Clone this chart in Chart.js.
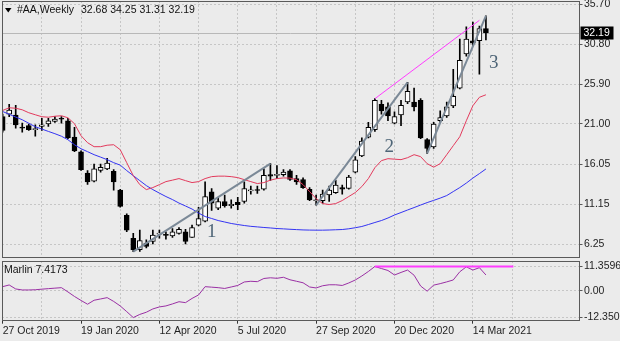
<!DOCTYPE html>
<html>
<head>
<meta charset="utf-8">
<title>#AA Weekly</title>
<script src="https://cdn.jsdelivr.net/npm/chart.js@4.4.1/dist/chart.umd.min.js"></script>
<style>
  html, body { margin: 0; padding: 0; background: #ebebeb; }
  #wrap { position: relative; width: 620px; height: 341px; overflow: hidden; }
  canvas { position: absolute; left: 0; }
  #price { top: 0; }
  #osc { top: 259px; }
</style>
</head>
<body>
<div id="wrap">
  <canvas id="price" width="620" height="259"></canvas>
  <canvas id="osc" width="620" height="82"></canvas>
</div>
<script>
// weekly bars, 27 Oct 2019 .. 28 Mar 2021
const dateLabels = ['27 Oct 2019', '19 Jan 2020', '12 Apr 2020', '5 Jul 2020', '27 Sep 2020', '20 Dec 2020', '14 Mar 2021'];
const priceTicks = [6.25, 11.15, 16.05, 21.00, 25.90, 30.80, 35.70];
const marlinTicks = [-12.3502, 0, 11.3596];

const opens = [21.9, 22.2, 22.1, 20.6, 20.8, 20.3, 20.7, 21.0, 21.3, 21.7,
  21.4, 19.4, 17.6, 15.0, 14.0, 15.3, 15.5, 15.2, 12.9, 9.8,
  7.0, 5.6, 6.4, 6.6, 7.5, 7.4, 7.3, 7.6, 7.8, 7.1,
  8.6, 9.1, 12.7, 10.7, 11.5, 11.0, 11.4, 11.5, 12.8, 12.9,
  13.0, 14.8, 14.7, 14.8, 15.25, 14.3, 14.2, 13.0, 11.6, 11.6,
  12.3, 12.6, 13.2, 13.1, 15.1, 17.1, 19.4, 20.3, 23.4, 23.1,
  21.1, 22.1, 23.7, 23.7, 23.9, 19.1, 18.2, 21.4, 22.0, 23.2,
  25.4, 29.6, 31.2, 31.2, 32.68];
const highs = [22.2, 23.4, 23.3, 21.1, 21.0, 20.9, 21.7, 21.7, 21.9, 21.9,
  21.7, 20.6, 17.7, 15.3, 16.1, 16.1, 16.8, 15.4, 13.0, 10.0,
  7.6, 8.0, 6.8, 8.0, 8.0, 7.8, 8.2, 8.3, 8.1, 8.6,
  10.8, 13.9, 13.1, 12.0, 12.3, 11.7, 12.0, 13.9, 13.4, 13.4,
  15.5, 16.15, 15.9, 15.4, 15.4, 14.7, 14.4, 13.2, 12.3, 12.9,
  13.4, 14.1, 13.5, 14.7, 17.0, 19.3, 21.2, 24.1, 23.9, 23.6,
  22.5, 23.9, 26.1, 25.4, 24.1, 19.2, 21.2, 22.6, 23.7, 27.7,
  31.4, 32.9, 33.5, 33.0, 34.25];
const lows = [20.0, 21.9, 20.5, 20.0, 20.2, 19.5, 20.2, 20.7, 21.2, 21.1,
  19.2, 17.6, 15.3, 13.6, 13.9, 15.1, 15.4, 12.9, 10.8, 7.8,
  5.35, 5.4, 5.8, 6.3, 7.0, 6.9, 7.1, 7.5, 6.3, 7.1,
  8.5, 9.0, 10.4, 10.5, 10.8, 10.7, 10.5, 11.3, 12.4, 12.5,
  12.9, 14.1, 14.3, 14.6, 14.1, 13.6, 13.1, 11.6, 11.05, 11.3,
  11.5, 12.5, 12.4, 13.0, 15.0, 17.0, 19.3, 20.1, 22.2, 21.4,
  21.0, 20.8, 23.5, 22.6, 19.2, 17.4, 18.0, 21.2, 21.8, 23.0,
  25.3, 29.3, 30.6, 27.1, 31.31];
const closes = [20.2, 22.7, 20.9, 20.5, 20.3, 20.4, 20.9, 21.4, 21.6, 21.6,
  19.3, 17.7, 15.4, 13.9, 15.5, 15.7, 16.2, 13.9, 10.9, 8.0,
  5.6, 6.7, 6.0, 7.4, 7.55, 7.35, 7.8, 8.1, 6.6, 8.3,
  9.4, 12.1, 11.3, 11.5, 11.0, 11.15, 11.1, 13.1, 12.9, 12.85,
  14.7, 14.6, 14.75, 15.1, 14.2, 13.9, 13.2, 11.7, 11.7, 12.4,
  12.9, 13.5, 13.0, 14.5, 16.6, 18.9, 20.6, 23.9, 22.6, 22.0,
  21.9, 23.3, 25.0, 23.1, 19.3, 18.0, 21.0, 21.8, 23.1, 24.4,
  28.8, 31.4, 30.9, 32.7, 32.19];

// moving averages on the price panel
const maFast = [22.66, 22.99, 22.93, 22.74, 22.38, 22.13, 21.89, 21.83, 21.95, 22.01,
  21.76, 21.03, 19.56, 18.71, 18.22, 18.22, 18.40, 18.46, 17.85, 16.26,
  14.67, 13.57, 12.96, 13.21, 13.57, 13.94, 14.12, 14.31, 14.06, 13.82,
  13.94, 14.31, 14.55, 14.61, 14.61, 14.55, 14.43, 14.18, 13.94, 13.70,
  13.82, 14.12, 14.31, 14.39, 14.37, 14.18, 13.57, 12.72, 11.86, 11.25,
  11.13, 11.25, 11.62, 12.11, 12.60, 13.33, 14.31, 15.65, 16.51, 16.75,
  16.69, 16.63, 16.87, 17.24, 17.00, 16.14, 15.71, 16.14, 17.24, 18.34,
  19.44, 21.40, 23.23, 24.27, 24.58];
const maSlow = [22.53, 22.19, 21.85, 21.52, 21.09, 20.66, 20.38, 20.09, 19.81, 19.50,
  19.07, 18.46, 17.97, 17.61, 17.24, 16.94, 16.63, 16.26, 15.96, 15.29,
  14.67, 14.06, 13.45, 12.96, 12.53, 12.11, 11.74, 11.31, 10.95, 10.58,
  10.09, 9.66, 9.42, 9.17, 8.99, 8.81, 8.68, 8.56, 8.46, 8.39,
  8.32, 8.26, 8.19, 8.15, 8.10, 8.06, 8.02, 8.00, 7.99, 7.99,
  8.01, 8.04, 8.07, 8.16, 8.29, 8.44, 8.68, 8.93, 9.17, 9.48,
  9.85, 10.15, 10.46, 10.76, 11.07, 11.37, 11.64, 11.92, 12.23, 12.72,
  13.21, 13.76, 14.37, 14.92, 15.49];

// Marlin oscillator
const marlin = [1.99, 2.78, 0.93, 0.46, 0.46, 0.56, 0.83, 1.07, 1.30, 1.53,
  -0.46, -2.55, -4.40, -6.16, -4.31, -3.71, -3.10, -4.86, -6.95, -9.59,
  -12.3502, -10.88, -9.87, -8.34, -7.41, -6.95, -6.02, -5.00, -5.42, -3.47,
  -1.85, 1.99, 1.76, 1.53, 1.16, 1.85, 2.55, 4.17, 4.49, 4.31,
  5.79, 6.11, 5.88, 6.35, 5.19, 4.49, 3.80, 1.85, 1.39, 2.41,
  2.87, 2.87, 2.55, 3.71, 5.09, 6.95, 9.03, 11.3596, 10.4, 9.5,
  7.4, 8.6, 9.7, 7.3, 2.3, -0.1, 2.7, 3.4, 4.2, 5.1,
  8.9, 11.2, 9.7, 10.8, 7.4173];

// wave lines [barIndex, value]
const wave1 = [[20, 5.35], [41, 16.15]];
const wave2 = [[48, 11.05], [62, 26.1]];
const wave3 = [[65, 17.4], [74, 34.25]];
const channelTop = [[57, 24.1], [73, 33.7]];
const marlinLevel = [[57, 11.3596], [78.2, 11.3596]];

const FONT = "'Liberation Sans', Arial, sans-serif";
const X_MIN = -0.1, X_MAX = 88.33;
const GRID = '#c6c6c6';
const FRAME = '#5a5a5a';

Chart.defaults.font.family = FONT;
Chart.defaults.font.size = 10.5;
Chart.defaults.color = '#1e1e1e';

const pts = arr => arr.map((v, i) => ({ x: i, y: v }));
const seg = arr => arr.map(p => ({ x: p[0], y: p[1] }));
const last = arr => arr[arr.length - 1];

function xScale(showLabels) {
  return {
    type: 'linear', min: X_MIN, max: X_MAX, offset: false,
    afterBuildTicks: s => { s.ticks = []; for (let v = 0; v <= 84; v += 6) s.ticks.push({ value: v }); },
    afterFit: s => { s.height = showLabels ? 20.3 : 0; s.paddingLeft = 0; s.paddingRight = 0; },
    grid: {
      color: GRID, offset: false, drawTicks: showLabels, tickLength: 3,
      tickColor: c => (c.tick && c.tick.value % 12 === 0) ? '#333' : 'rgba(0,0,0,0)'
    },
    border: { display: false, dash: [2, 2] },
    ticks: {
      display: showLabels, autoSkip: false, maxRotation: 0, align: 'start', padding: 1,
      callback: v => v % 12 === 0 ? dateLabels[v / 12] : ''
    }
  };
}

function yScale(min, max, values, fmt) {
  return {
    position: 'right', min: min, max: max,
    afterBuildTicks: s => { s.ticks = values.map(v => ({ value: v })); },
    afterFit: s => { s.width = 40.5; s.paddingTop = 0; s.paddingBottom = 0; },
    grid: { color: GRID, tickLength: 3, tickColor: FRAME },
    border: { display: false, dash: [2, 2] },
    ticks: { padding: 1.5, autoSkip: false, callback: fmt }
  };
}

function frame(chart) {
  const { ctx, chartArea: a } = chart;
  ctx.save();
  ctx.strokeStyle = FRAME;
  ctx.lineWidth = 1;
  ctx.strokeRect(Math.round(a.left) + 0.5, Math.round(a.top) + 0.5,
    Math.round(a.right - a.left) - 1, Math.round(a.bottom - a.top) - 1);
  ctx.restore();
}

const priceOverlay = {
  id: 'priceOverlay',
  beforeDatasetsDraw(chart) {
    const { ctx, chartArea: a, scales: { y } } = chart;
    const py = Math.round(y.getPixelForValue(last(closes))) + 0.5;
    ctx.save();
    ctx.strokeStyle = '#b8b8b8';
    ctx.lineWidth = 1;
    ctx.beginPath();
    ctx.moveTo(a.left, py);
    ctx.lineTo(a.right, py);
    ctx.stroke();
    ctx.restore();
  },
  afterDraw(chart) {
    const { ctx, chartArea: a, scales: { x, y } } = chart;
    frame(chart);
    ctx.save();
    // symbol header
    ctx.fillStyle = '#000';
    ctx.beginPath();
    ctx.moveTo(5, 8); ctx.lineTo(11.5, 8); ctx.lineTo(8.25, 12.5); ctx.closePath();
    ctx.fill();
    ctx.font = '10.5px ' + FONT;
    ctx.textBaseline = 'middle';
    ctx.fillStyle = '#111';
    ctx.fillText('#AA,Weekly', 17, 10);
    const n = opens.length - 1;
    ctx.fillText([opens[n], highs[n], lows[n], closes[n]].map(v => v.toFixed(2)).join(' '), 81, 10);

    // wave numbers
    ctx.font = '19px "Liberation Serif", serif';
    ctx.fillStyle = '#4e6577';
    ctx.textAlign = 'center';
    [['1', 32.0, 7.74], ['2', 59.2, 18.22], ['3', 75.2, 28.49]].forEach(t => {
      ctx.fillText(t[0], x.getPixelForValue(t[1]), y.getPixelForValue(t[2]));
    });

    // last price tag
    const py = Math.round(y.getPixelForValue(last(closes)));
    ctx.fillStyle = '#000';
    ctx.fillRect(a.right + 1, py - 6.5, 33, 13);
    ctx.fillStyle = '#fff';
    ctx.textAlign = 'left';
    ctx.font = '10.5px ' + FONT;
    ctx.fillText(last(closes).toFixed(2), a.right + 4, py + 0.5);
    ctx.restore();
  }
};

const oscOverlay = {
  id: 'oscOverlay',
  afterDraw(chart) {
    const { ctx } = chart;
    frame(chart);
    ctx.save();
    ctx.font = '10.5px ' + FONT;
    ctx.textBaseline = 'middle';
    ctx.fillStyle = '#111';
    ctx.fillText('Marlin ' + last(marlin).toFixed(4), 4, 11);
    ctx.restore();
  }
};

const lineSet = (data, color, width, order) => ({
  type: 'line', data: data, borderColor: color, borderWidth: width,
  pointRadius: 0, tension: 0, fill: false, order: order
});

new Chart(document.getElementById('price'), {
  type: 'bar',
  data: {
    datasets: [
      lineSet(seg(wave1), '#7b8997', 2, 0),
      lineSet(seg(wave2), '#7b8997', 2, 0),
      lineSet(seg(wave3), '#7b8997', 2, 0),
      lineSet(seg(channelTop), '#ff3cff', 1, 0),
      lineSet(pts(maFast), '#e23a5c', 1, 1),
      lineSet(pts(maSlow), '#3434f2', 1, 1),
      {
        // candle bodies
        data: opens.map((o, i) => ({ x: i, y: [o, closes[i]] })),
        backgroundColor: c => closes[c.dataIndex] >= opens[c.dataIndex] ? '#ffffff' : '#000000',
        borderColor: '#000', borderWidth: 1, borderSkipped: false,
        barThickness: 5, minBarLength: 1, grouped: false, order: 2
      },
      {
        // high-low wicks
        data: lows.map((l, i) => ({ x: i, y: [l, highs[i]] })),
        backgroundColor: '#000', borderWidth: 0,
        barThickness: 1, grouped: false, order: 3
      }
    ]
  },
  options: {
    responsive: false, animation: false, devicePixelRatio: 1,
    layout: { padding: { left: 2, top: 1, right: 0, bottom: 1 } },
    plugins: { legend: { display: false }, tooltip: { enabled: false } },
    scales: {
      x: xScale(false),
      y: yScale(4.58, 36.07, priceTicks, v => v.toFixed(2))
    }
  },
  plugins: [priceOverlay]
});

new Chart(document.getElementById('osc'), {
  type: 'line',
  data: {
    datasets: [
      lineSet(seg(marlinLevel), '#ff3cff', 2, 0),
      lineSet(pts(marlin), '#9a30a4', 1, 1)
    ]
  },
  options: {
    responsive: false, animation: false, devicePixelRatio: 1,
    layout: { padding: { left: 2, top: 2, right: 0, bottom: 0 } },
    plugins: { legend: { display: false }, tooltip: { enabled: false } },
    scales: {
      x: xScale(true),
      y: yScale(-13.8, 13.9, marlinTicks, v => v === 0 ? '0.00' : v.toFixed(4))
    }
  },
  plugins: [oscOverlay]
});
</script>
</body>
</html>
